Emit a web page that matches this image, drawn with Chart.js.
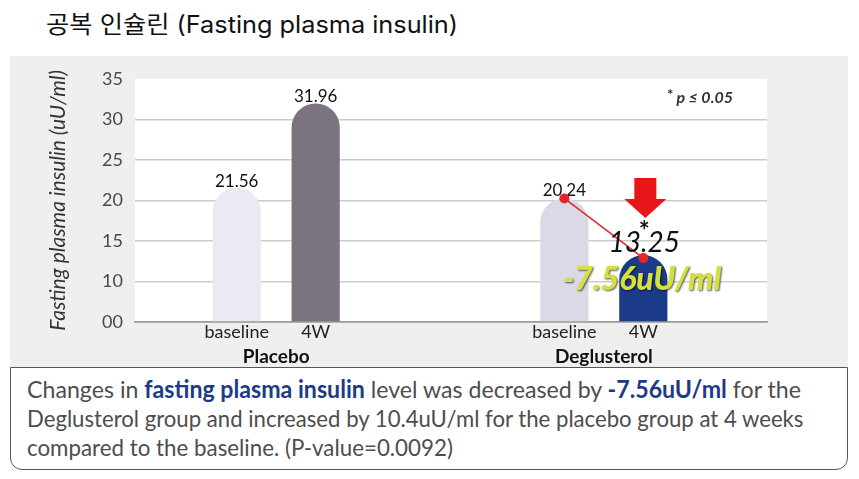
<!DOCTYPE html>
<html>
<head>
<meta charset="utf-8">
<script src="https://cdn.jsdelivr.net/npm/chart.js@4.4.1/dist/chart.umd.min.js"></script>
<style>
  body { margin: 0; width: 859px; height: 479px; background: #fff; position: relative; overflow: hidden; font-family: Lato, sans-serif; }
  #title { position: absolute; left: 46px; top: 9px; font: 24px/32px Inter, "Noto Sans CJK KR", sans-serif; color: #111; white-space: nowrap; transform-origin: 0 50%; }
  #panel { position: absolute; left: 10px; top: 56px; width: 838px; height: 311px; background: #efefef; }
  #note { position: absolute; left: 10px; top: 367px; width: 838px; height: 103px; box-sizing: border-box;
          border: 1.5px solid #555; border-radius: 0 0 12px 12px; background: #fff; }
  .line { position: absolute; left: 16px; width: max-content; white-space: nowrap; font: 24px/28px Lato, sans-serif; color: #4d4d4d; transform-origin: 0 50%; }
  .line b { color: #1d3a87; font-weight: 700; }
</style>
</head>
<body>
<div id="title">공복 인슐린 (Fasting plasma insulin)</div>
<div id="panel"><canvas id="chart"></canvas></div>
<div id="note">
  <div class="line" style="top:7px">Changes in <b>fasting plasma insulin</b> level was decreased by <b>-7.56uU/ml</b> for the</div>
  <div class="line" style="top:36px">Deglusterol group and increased by 10.4uU/ml for the placebo group at 4 weeks</div>
  <div class="line" style="top:65px">compared to the baseline. (P-value=0.0092)</div>
</div>
<script>
const groups = ['Placebo', 'Deglusterol'];
const timepoints = ['baseline', '4W'];
const baselineValues = [21.56, 20.24];
const week4Values = [31.96, 13.25];
const yTicks = [5, 10, 15, 20, 25, 30, 35];
const yTickLabels = ['00', '10', '15', '20', '25', '30', '35'];
const changeLabel = '-7.56uU/ml';
const pLabel = 'p ≤ 0.05';
const yTitle = 'Fasting plasma insulin (uU/ml)';

// squeeze the note lines and the title to the width they have in the picture
const lineWidths = [774, 776, 426];
document.querySelectorAll('.line').forEach((l, i) => {
  l.style.transform = `scaleX(${lineWidths[i] / l.offsetWidth})`;
});
const title = document.getElementById('title');
title.style.transform = `scaleX(${412 / title.offsetWidth})`;

const annotations = {
  id: 'annotations',
  beforeDraw(chart) {
    const { ctx, chartArea: a } = chart;
    ctx.save();
    ctx.fillStyle = '#ffffff';
    ctx.fillRect(a.left, a.top, a.right - a.left, a.bottom - a.top);
    ctx.restore();
  },
  afterDatasetsDraw(chart) {
    const { ctx, chartArea: a } = chart;
    const bars = chart.data.datasets.map((d, i) => chart.getDatasetMeta(i).data);
    ctx.save();

    // bar labels under the bars
    ctx.fillStyle = '#222';
    ctx.font = '18px Lato';
    ctx.textAlign = 'center';
    ctx.textBaseline = 'middle';
    bars.forEach((set, i) => {
      set.forEach((bar) => ctx.fillText(timepoints[i], bar.x, a.bottom + 10));
    });

    // value labels
    ctx.textBaseline = 'alphabetic';
    ctx.fillStyle = '#111';
    ctx.font = '17px Lato';
    ctx.fillText(baselineValues[0].toFixed(2), bars[0][0].x, bars[0][0].y - 1);
    ctx.fillText(week4Values[0].toFixed(2), bars[1][0].x, bars[1][0].y - 1);
    ctx.fillText(baselineValues[1].toFixed(2), bars[0][1].x, bars[0][1].y - 2);

    // connector for Deglusterol
    const b0 = bars[0][1];
    const b1 = bars[1][1];
    ctx.strokeStyle = '#e2262c';
    ctx.fillStyle = '#e2262c';
    ctx.lineWidth = 1.5;
    ctx.beginPath();
    ctx.moveTo(b0.x, b0.y);
    ctx.lineTo(b1.x, b1.y + 3);
    ctx.stroke();
    [[b0.x, b0.y], [b1.x, b1.y + 3]].forEach(([x, y]) => {
      ctx.beginPath();
      ctx.arc(x, y, 5, 0, Math.PI * 2);
      ctx.fill();
    });

    // down arrow
    const ax = b1.x + 2;
    const tip = b1.y - 37;
    ctx.fillStyle = '#e8161b';
    ctx.beginPath();
    ctx.moveTo(ax - 11, tip - 40);
    ctx.lineTo(ax + 11, tip - 40);
    ctx.lineTo(ax + 11, tip - 19);
    ctx.lineTo(ax + 21, tip - 19);
    ctx.lineTo(ax, tip);
    ctx.lineTo(ax - 21, tip - 19);
    ctx.lineTo(ax - 11, tip - 19);
    ctx.closePath();
    ctx.fill();

    // star and big value
    ctx.fillStyle = '#111';
    ctx.textBaseline = 'middle';
    ctx.font = 'bold 26px Lato';
    ctx.fillText('*', b1.x + 1, b1.y - 24);
    ctx.font = 'italic 28px Lato';
    ctx.fillText(week4Values[1].toFixed(2), b1.x + 1, b1.y - 12);

    // change label
    ctx.font = 'italic 900 32px Lato';
    ctx.shadowColor = 'rgba(0,0,0,0.65)';
    ctx.shadowBlur = 2;
    ctx.shadowOffsetX = 1;
    ctx.shadowOffsetY = 1;
    ctx.fillStyle = '#d6e03c';
    ctx.fillText(changeLabel, b1.x - 1, b1.y + 25);
    ctx.shadowColor = 'transparent';

    // significance note
    ctx.fillStyle = '#333';
    ctx.textAlign = 'right';
    ctx.font = 'italic bold 16px Lato';
    ctx.fillText(pLabel, a.right - 34, a.top + 19);
    const w = ctx.measureText(pLabel).width;
    ctx.font = 'bold 15px Lato';
    ctx.fillText('*', a.right - 37 - w, a.top + 16);

    ctx.restore();
  }
};

const barStyle = {
  borderRadius: { topLeft: 24, topRight: 24, bottomLeft: 0, bottomRight: 0 },
  borderSkipped: 'bottom',
  base: yTicks[0],
  categoryPercentage: 0.482,
  barPercentage: 0.61
};

new Chart(document.getElementById('chart'), {
  type: 'bar',
  data: {
    datasets: [
      {
        label: timepoints[0],
        data: groups.map((g, i) => ({ x: i, y: baselineValues[i] })),
        backgroundColor: ['#ebeaf3', '#dcd9e6'],
        ...barStyle
      },
      {
        label: timepoints[1],
        data: groups.map((g, i) => ({ x: i, y: week4Values[i] })),
        backgroundColor: ['#7b7480', '#1b3a87'],
        ...barStyle
      }
    ]
  },
  options: {
    responsive: true,
    maintainAspectRatio: false,
    animation: false,
    layout: { padding: { left: 32, right: 81, top: 21, bottom: 0 } },
    plugins: { legend: { display: false }, tooltip: { enabled: false } },
    scales: {
      x: {
        type: 'linear',
        min: -0.431,
        max: 1.498,
        offset: false,
        bounds: 'data',
        afterBuildTicks: (s) => { s.ticks = groups.map((g, i) => ({ value: i })); },
        afterFit: (s) => { s.height = 45; },
        grid: { display: false },
        border: { color: '#9a9a9a', width: 1.5 },
        ticks: {
          callback: (v) => groups[v],
          color: '#111',
          font: { family: 'Lato', size: 19, weight: 'bold' },
          padding: 15,
          maxRotation: 0
        }
      },
      y: {
        min: yTicks[0],
        max: yTicks[yTicks.length - 1],
        afterBuildTicks: (s) => { s.ticks = yTicks.map((v) => ({ value: v })); },
        afterFit: (s) => { s.width = 93; },
        border: { display: false },
        grid: {
          drawTicks: false,
          lineWidth: 1.5,
          color: (c) => c.index === yTicks.length - 1 ? 'rgba(0,0,0,0)' : (c.index === 0 ? '#9a9a9a' : '#cccccc')
        },
        ticks: {
          callback: (v, i) => yTickLabels[i],
          color: '#4a4a4a',
          font: { family: 'Lato', size: 18 },
          padding: 12
        },
        title: {
          display: true,
          text: yTitle,
          color: '#333',
          font: { family: 'Lato', size: 21, style: 'italic' }
        }
      }
    }
  },
  plugins: [annotations]
});
</script>
</body>
</html>
